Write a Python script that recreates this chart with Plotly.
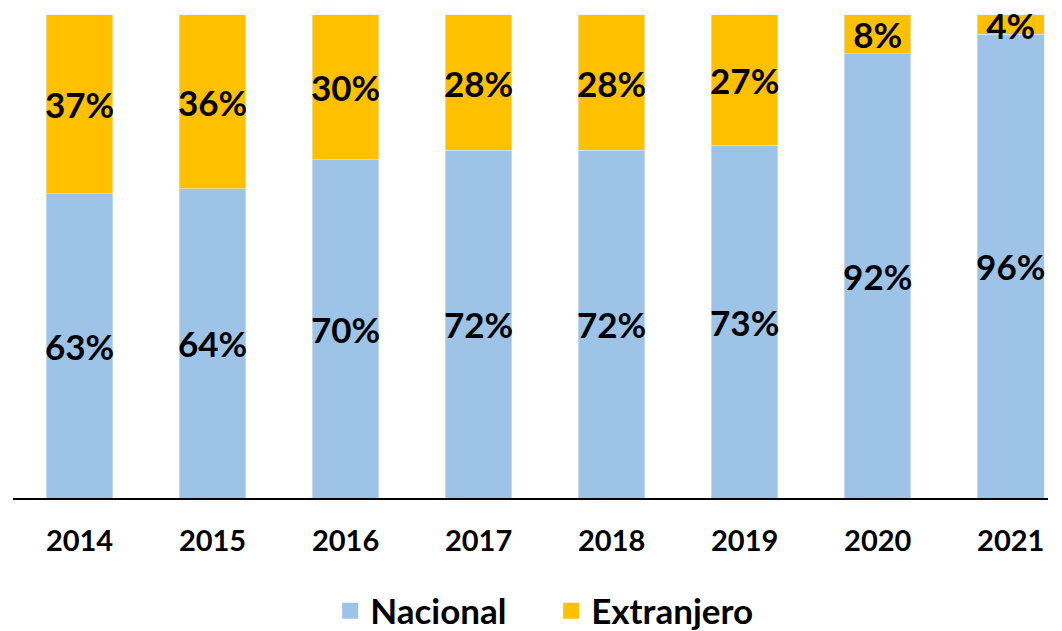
import plotly.graph_objects as go

years = ['2014', '2015', '2016', '2017', '2018', '2019', '2020', '2021']
nacional = [63, 64, 70, 72, 72, 73, 92, 96]
extranjero = [37, 36, 30, 28, 28, 27, 8, 4]

BLUE = '#9DC3E6'
GOLD = '#FFC000'
FONT = 'Lato'
LABEL_SIZE = 35

fig = go.Figure()

fig.add_trace(go.Bar(
    x=years, y=nacional, name='Nacional', marker_color=BLUE,
    text=[f'{v}%' for v in nacional], textposition='inside',
    insidetextanchor='middle', textangle=0, cliponaxis=False,
    textfont=dict(family=FONT, size=LABEL_SIZE, color='black', weight='bold'),
    showlegend=False))
fig.add_trace(go.Bar(
    x=years, y=extranjero, name='Extranjero', marker_color=GOLD,
    text=[f'{v}%' for v in extranjero], textposition='inside',
    insidetextanchor='middle', textangle=0, constraintext='none',
    cliponaxis=False,
    textfont=dict(family=FONT, size=LABEL_SIZE, color='black', weight='bold'),
    showlegend=False))

# legend entries with bigger square markers
for name, color in [('Nacional', BLUE), ('Extranjero', GOLD)]:
    fig.add_trace(go.Scatter(
        x=[None], y=[None], mode='markers', name=name,
        marker=dict(symbol='square', size=16, color=color)))

# page body has an 8px margin, so the figure is shrunk by that much
fig.update_layout(
    barmode='stack', bargap=0.5,
    width=1054, height=623,
    margin=dict(l=5, r=14, t=4, b=133, autoexpand=False),
    paper_bgcolor='white', plot_bgcolor='white',
    uniformtext=dict(mode='show', minsize=LABEL_SIZE),
    legend=dict(orientation='h', x=0.52, xanchor='center', y=-0.2325,
                yanchor='middle', itemwidth=30, traceorder='normal',
                entrywidth=176, entrywidthmode='pixels',
                font=dict(family=FONT, size=35, color='black', weight='bold')))
fig.update_xaxes(type='category', range=[-0.5, 7.28], showline=True,
                 linecolor='black', linewidth=2, ticks='', showgrid=False,
                 ticklabelstandoff=16,
                 tickfont=dict(family=FONT, size=29, color='black', weight='bold'))
fig.update_yaxes(range=[0, 100.62], visible=False, showgrid=False)

fig.write_html('out.html')
